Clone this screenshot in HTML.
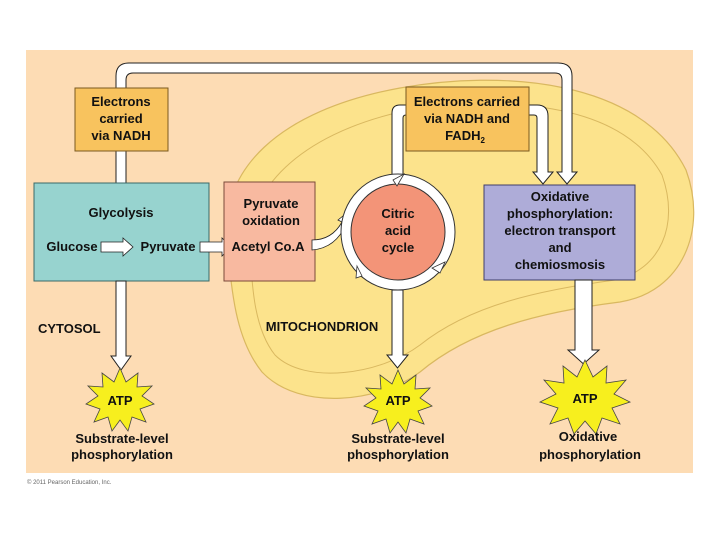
<!DOCTYPE html>
<html><head><meta charset="utf-8"><style>
html,body{margin:0;padding:0;background:#fff;width:720px;height:540px;overflow:hidden}
text{font-family:"Liberation Sans",Arial,sans-serif;font-weight:bold;font-size:13px;fill:#111;text-anchor:middle}
</style></head><body>
<svg width="720" height="540" viewBox="0 0 720 540" xmlns="http://www.w3.org/2000/svg">
<rect x="26" y="50" width="667" height="423" fill="#fddcb4"/>
<path d="M228 250 C215 170 280 110 400 88 C500 70 640 78 686 170 C708 230 682 292 620 302 C540 312 470 330 420 372 C380 402 300 412 262 372 C238 342 232 300 228 250 Z" fill="#fce38c" stroke="#d9b860" stroke-width="1.2"/>
<path d="M250 250 C245 190 300 135 400 112 C500 95 620 100 662 175 C680 225 660 270 615 280 C540 290 470 305 420 345 C380 375 305 385 275 355 C255 330 252 290 250 250 Z" fill="none" stroke="#d9b860" stroke-width="1"/>
<text x="27" y="484" style="font-size:6px;font-weight:normal;fill:#666;text-anchor:start">© 2011 Pearson Education, Inc.</text>
<path d="M116 88 V76 Q116 63 129 63 H558 Q572 63 572 76 V172 H577 L567 184 L557 172 H562 V80 Q562 73 555 73 H133 Q126 73 126 80 V88 Z" fill="#fff" stroke="#222" stroke-width="1"/>
<path d="M392 190 V113 Q392 105 400 105 H407 V115 H406 Q403 115 403 118 V190 Z" fill="#fff" stroke="#222" stroke-width="1"/>
<path d="M528 105 H537 Q548 105 548 116 V172 H553 L543 184 L533 172 H537 V118 Q537 115 534 115 H528 Z" fill="#fff" stroke="#222" stroke-width="1"/>
<rect x="116" y="150" width="10" height="33" fill="#fff" stroke="#222" stroke-width="1"/>
<rect x="75" y="88" width="93" height="63" fill="#f8c35e" stroke="#7a5a20" stroke-width="1"/>
<text x="121" y="106">Electrons</text><text x="121" y="123">carried</text><text x="121" y="140">via NADH</text>
<rect x="406" y="87" width="123" height="64" fill="#f8c35e" stroke="#7a5a20" stroke-width="1"/>
<text x="467" y="106">Electrons carried</text><text x="467" y="123">via NADH and</text><text x="465" y="140">FADH<tspan dy="3" style="font-size:8px">2</tspan></text>
<rect x="34" y="183" width="175" height="98" fill="#97d3cf" stroke="#3a6a68" stroke-width="1"/>
<text x="121" y="217">Glycolysis</text>
<text x="72" y="251">Glucose</text>
<path d="M101 242 H123 V238 L133 247 L123 256 V252 H101 Z" fill="#fff" stroke="#222" stroke-width="0.8"/>
<text x="168" y="251">Pyruvate</text>
<path d="M200 242 H222 V238 L231 247 L222 256 V252 H200 Z" fill="#fff" stroke="#222" stroke-width="0.8"/>
<rect x="224" y="182" width="91" height="99" fill="#f8b9a0" stroke="#7a4a3a" stroke-width="1"/>
<text x="271" y="208">Pyruvate</text><text x="271" y="225">oxidation</text>
<text x="268" y="251">Acetyl Co.A</text>
<path d="M312 240 Q332 240 342 222 L338 220 L348 212 L350 225 L346 224 Q336 248 312 250 Z" fill="#fff" stroke="#222" stroke-width="0.8"/>
<ellipse cx="398" cy="232" rx="57" ry="58" fill="#fff" stroke="#333" stroke-width="1"/>
<ellipse cx="398" cy="232" rx="47" ry="48" fill="#f39478" stroke="#333" stroke-width="1"/>
<path d="M393 180 L404 174 L397 186 Z" fill="#fff" stroke="#333" stroke-width="0.8"/>
<path d="M445 262 L440 273 L432 268 Z" fill="#fff" stroke="#333" stroke-width="0.8"/>
<path d="M357 266 L362 276 L356 278 Z" fill="#fff" stroke="#333" stroke-width="0.8"/>
<text x="398" y="218">Citric</text><text x="398" y="235">acid</text><text x="398" y="252">cycle</text>
<rect x="484" y="185" width="151" height="95" fill="#aeacd8" stroke="#3f3e6a" stroke-width="1"/>
<text x="560" y="201">Oxidative</text><text x="560" y="218">phosphorylation:</text><text x="560" y="235">electron transport</text><text x="560" y="252">and</text><text x="560" y="269">chemiosmosis</text>
<path d="M116 281 V356 H111 L121 370 L131 356 H126 V281 Z" fill="#fff" stroke="#222" stroke-width="1"/>
<path d="M392 290 V355 H387 L397.5 368 L408 355 H403 V290 Z" fill="#fff" stroke="#222" stroke-width="1"/>
<path d="M575 280 V350 H568 L583.5 364 L599 350 H592 V280 Z" fill="#fff" stroke="#222" stroke-width="1"/>
<text x="38" y="333" style="text-anchor:start">CYTOSOL</text>
<text x="322" y="331">MITOCHONDRION</text>
<polygon points="120,368 126,382 138,373 137,387 152,386 142,396 154,404 140,409 146,422 132,417 128,431 120,420 112,431 108,417 94,422 100,409 86,404 98,396 88,386 103,387 102,373 114,382" fill="#f7ef1e" stroke="#444" stroke-width="0.8"/>
<text x="120" y="405">ATP</text>
<polygon points="398,370 404,384 416,375 415,389 430,388 420,398 432,406 418,411 424,424 410,419 406,433 398,422 390,433 386,419 372,424 378,411 364,406 376,398 366,388 381,389 380,375 392,384" fill="#f7ef1e" stroke="#444" stroke-width="0.8"/>
<text x="398" y="405">ATP</text>
<polygon points="585,360 593,377 607,366 606,383 626,380 614,394 630,402 612,408 620,424 602,418 596,434 585,421 574,434 568,418 550,424 558,408 540,402 556,394 544,380 564,383 563,366 577,377" fill="#f7ef1e" stroke="#444" stroke-width="0.8"/>
<text x="585" y="403">ATP</text>
<text x="122" y="443">Substrate-level</text><text x="122" y="459">phosphorylation</text>
<text x="398" y="443">Substrate-level</text><text x="398" y="459">phosphorylation</text>
<text x="588" y="441">Oxidative</text><text x="590" y="459">phosphorylation</text>
</svg>
</body></html>
